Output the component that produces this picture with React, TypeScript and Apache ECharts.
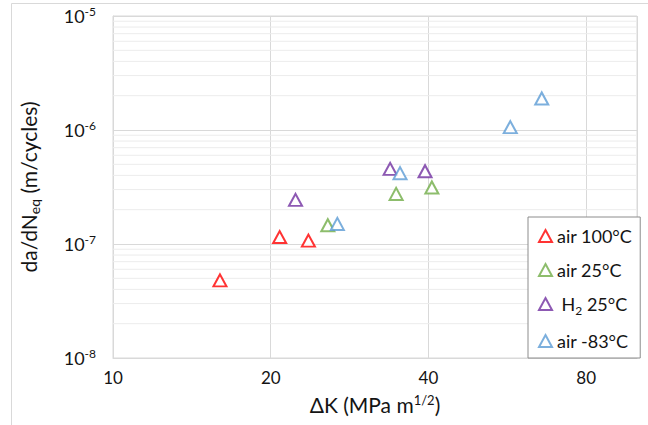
import React, { useEffect, useRef } from "react";
import * as echarts from "echarts";

// ---- data (ΔK in MPa·m^1/2, da/dN in m/cycle) ----
const seriesNames = ["air 100°C", "air 25°C", "H2 25°C", "air -83°C"];
const seriesColors = ["#FF0000", "#70AD47", "#7030A0", "#5B9BD5"];
const air100: number[][] = [
  [16.0, 4.8e-8],
  [20.8, 1.15e-7],
  [23.6, 1.07e-7],
];
const air25: number[][] = [
  [25.7, 1.46e-7],
  [34.7, 2.75e-7],
  [40.6, 3.13e-7],
];
const h2_25: number[][] = [
  [22.3, 2.44e-7],
  [33.8, 4.56e-7],
  [39.4, 4.35e-7],
];
const airM83: number[][] = [
  [26.8, 1.5e-7],
  [35.3, 4.18e-7],
  [57.3, 1.06e-6],
  [65.8, 1.89e-6],
];
const xMin = 10;
const xMax = 100;
const yMin = 1e-8;
const yMax = 1e-5;
const minorMultipliers = [2, 3, 4, 5, 6, 7, 8, 9];
const decades = [-8, -7, -6];

const FONT = "Lato, 'Noto Sans', sans-serif";
const TXT = "#141414";

export default function App() {
  const ref = useRef<HTMLDivElement>(null);
  useEffect(() => {
    if (!ref.current) return;
    const chart = echarts.init(ref.current, undefined, { renderer: "svg" });
    const allSeries = [air100, air25, h2_25, airM83];
    // x axis is log base 2 from 10: transform value -> log2(x/10)
    const tx = (x: number) => Math.log2(x / xMin);
    const minorVals: number[] = [];
    decades.forEach((e) =>
      minorMultipliers.forEach((m) => minorVals.push(m * Math.pow(10, e)))
    );
    const legendNames = ["air 100°C", "air 25°C", " H{sub|2} 25°C", "air -83°C"];

    const minorSeries: any[] = minorVals.map((v, i) => ({
      name: "minor" + i,
      type: "line",
      silent: true,
      symbol: "none",
      data: [
        [tx(xMin), v],
        [tx(xMax), v],
      ],
      lineStyle: { color: "#ececec", width: 1 },
      z: 1,
    }));

    const series: any[] = allSeries.map((d, i) => ({
      name: seriesNames[i],
      type: "scatter",
      symbol: "triangle",
      symbolSize: [13, 12],
      data: d.map((p) => [tx(p[0]), p[1]]),
      itemStyle: {
        color: "#ffffff",
        borderColor: seriesColors[i],
        borderWidth: 2,
      },
      z: 5,
    }));

    chart.setOption({
      animation: false,
      backgroundColor: "#ffffff",
      textStyle: { fontFamily: FONT },
      graphic: [
        {
          type: "rect",
          shape: { x: 11.5, y: 3.5, width: 700, height: 500 },
          style: { fill: "none", stroke: "#d9d9d9", lineWidth: 1 },
          silent: true,
          z: -1,
        },
      ],
      grid: {
        left: 113,
        right: 11,
        top: 16,
        bottom: 67,
        show: true,
        borderColor: "#d9d9d9",
        borderWidth: 1,
        outerBoundsMode: "none",
      },
      legend: {
        orient: "vertical",
        left: 528,
        top: 217,
        padding: [10, 8, 8, 10],
        itemGap: 16,
        itemWidth: 13,
        itemHeight: 12,
        backgroundColor: "#ffffff",
        borderColor: "#8c8c8c",
        borderWidth: 1,
        icon: "triangle",
        data: seriesNames.map((n, i) => ({
          name: n,
          itemStyle: {
            color: "#ffffff",
            borderColor: seriesColors[i],
            borderWidth: 2,
          },
        })),
        formatter: (name: string) => legendNames[seriesNames.indexOf(name)],
        textStyle: {
          fontFamily: FONT,
          fontSize: 18,
          color: TXT,
          rich: {
            sub: { fontSize: 12, fontFamily: FONT, color: TXT, padding: [12, 0, 0, 0] },
          },
        },
      },
      xAxis: {
        type: "value",
        min: 0,
        max: tx(xMax),
        interval: 1,
        name: "ΔK (MPa m{sup|1/2})",
        nameLocation: "middle",
        nameGap: 35,
        nameTextStyle: {
          fontFamily: FONT,
          fontSize: 21,
          color: TXT,
          rich: {
            sup: { fontSize: 13, fontFamily: FONT, color: TXT, padding: [0, 0, 10, 0] },
          },
        },
        axisLine: { show: true, lineStyle: { color: "#d9d9d9" } },
        axisTick: { show: false },
        splitLine: { show: true, lineStyle: { color: "#d9d9d9" } },
        axisLabel: {
          showMaxLabel: false,
          margin: 11,
          fontFamily: FONT,
          fontSize: 17,
          color: TXT,
          formatter: (v: number) => String(Math.round(xMin * Math.pow(2, v))),
        },
      },
      yAxis: {
        type: "log",
        logBase: 10,
        min: yMin,
        max: yMax,
        name: "da/dN{sub|eq} (m/cycles)",
        nameLocation: "middle",
        nameRotate: 90,
        nameGap: 72,
        nameTextStyle: {
          fontFamily: FONT,
          fontSize: 21,
          color: TXT,
          rich: {
            sub: { fontSize: 14, fontFamily: FONT, color: TXT, padding: [11, 0, 0, 0] },
          },
        },
        axisLine: { show: true, lineStyle: { color: "#d9d9d9" } },
        axisTick: { show: false },
        splitLine: { show: true, lineStyle: { color: "#d9d9d9" } },
        axisLabel: {
          margin: 17,
          fontFamily: FONT,
          fontSize: 18,
          color: TXT,
          formatter: (v: number) => "10{sup|" + Math.round(Math.log10(v)) + "}",
          rich: {
            sup: { fontSize: 12, fontFamily: FONT, color: TXT, padding: [0, 0, 9, 0] },
          },
        },
      },
      series: [...minorSeries, ...series],
    });
    return () => chart.dispose();
  }, []);
  return (
    <div
      ref={ref}
      style={{ position: "absolute", left: 0, top: 0, width: 648, height: 425 }}
    />
  );
}
